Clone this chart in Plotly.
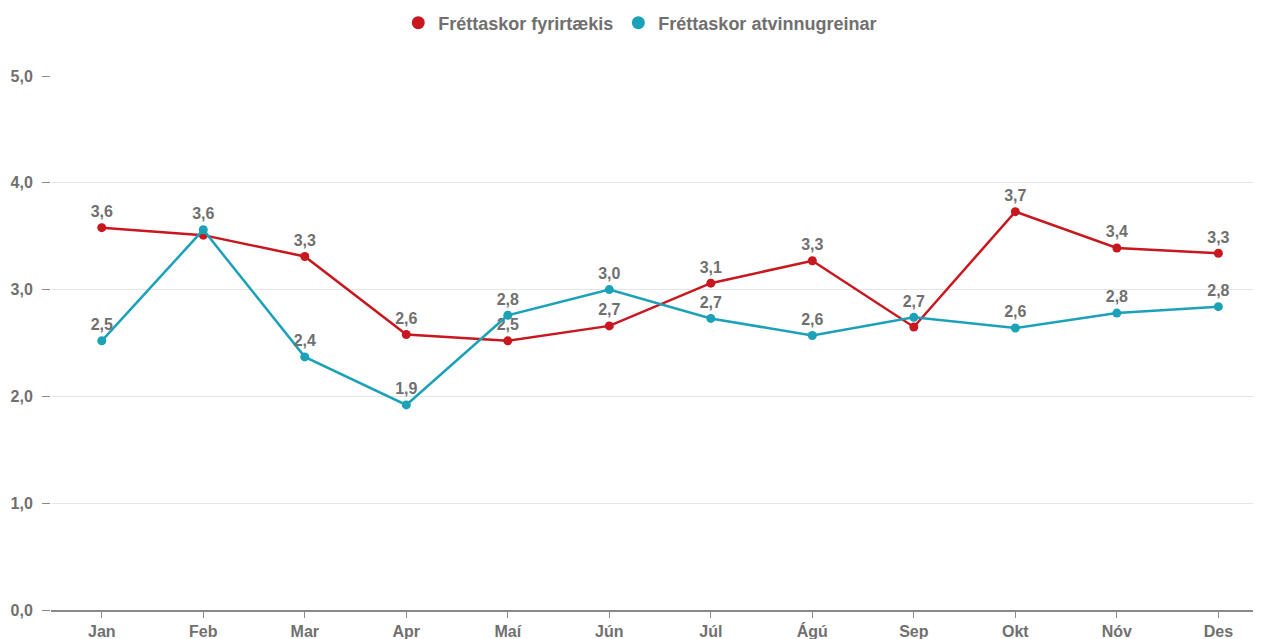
import plotly.graph_objects as go

months = ["Jan", "Feb", "Mar", "Apr", "Maí", "Jún", "Júl", "Ágú", "Sep", "Okt", "Nóv", "Des"]
company = [3.58, 3.51, 3.31, 2.58, 2.52, 2.66, 3.06, 3.27, 2.65, 3.73, 3.39, 3.34]
industry = [2.52, 3.56, 2.37, 1.92, 2.76, 3.00, 2.73, 2.57, 2.74, 2.64, 2.78, 2.84]
company_label_shown = [True, False, True, True, True, True, True, True, False, True, True, True]
industry_label_shown = [True] * 12
y_ticks = [0, 1, 2, 3, 4, 5]

names = ["Fréttaskor fyrirtækis", "Fréttaskor atvinnugreinar"]
colors = ["#c8171e", "#1ba1b8"]

FONT = "Liberation Sans Narrow, Arial Narrow, Liberation Sans, Arial, sans-serif"
GRAY = "#707070"


def fmt(v):
    return f"{v:.1f}".replace(".", ",")


fig = go.Figure()
for name, vals, shown, col in [
    (names[0], company, company_label_shown, colors[0]),
    (names[1], industry, industry_label_shown, colors[1]),
]:
    fig.add_trace(go.Scatter(
        x=months, y=vals, name=name, mode="lines+markers+text",
        line=dict(color=col, width=2.5),
        marker=dict(color=col, size=9),
        text=[fmt(v) if s else "" for v, s in zip(vals, shown)],
        textposition="top center",
        textfont=dict(family=FONT, size=16, color=GRAY, weight="bold"),
        cliponaxis=False,
        showlegend=False,
    ))

# legend entries: circle markers only
for name, col in zip(names, colors):
    fig.add_trace(go.Scatter(
        x=[None], y=[None], name=name, mode="markers",
        marker=dict(color=col, size=13),
        showlegend=True,
    ))

fig.update_layout(
    width=1261, height=639,
    margin=dict(l=43, r=8, t=68, b=37, autoexpand=False),
    plot_bgcolor="white", paper_bgcolor="white",
    separators=",.",
    showlegend=True,
    legend=dict(orientation="h", x=0.487, xanchor="center", y=1 - 15 / 639, yanchor="middle",
                yref="container", font=dict(family=FONT, size=18, color=GRAY, weight="bold"),
                itemwidth=30, tracegroupgap=0),
    font=dict(family=FONT, color=GRAY),
)
fig.update_xaxes(
    type="category", range=[-0.5, 11.42], automargin=False,
    showline=True, linecolor="#8a8a8a", linewidth=1.5,
    ticks="outside", ticklen=6, tickcolor="#8a8a8a",
    showgrid=False,
    tickfont=dict(family=FONT, size=16, color=GRAY, weight="bold"),
)
fig.update_yaxes(
    range=[0, 5], tickvals=y_ticks, ticktext=[fmt(v) for v in y_ticks],
    automargin=False,
    showgrid=True, gridcolor="#e6e6e6", gridwidth=1,
    zeroline=False, showline=False,
    ticks="outside", ticklen=8, tickcolor="#8a8a8a",
    ticklabelstandoff=6,
    tickfont=dict(family=FONT, size=16, color=GRAY, weight="bold"),
)

fig.write_html("out.html")
